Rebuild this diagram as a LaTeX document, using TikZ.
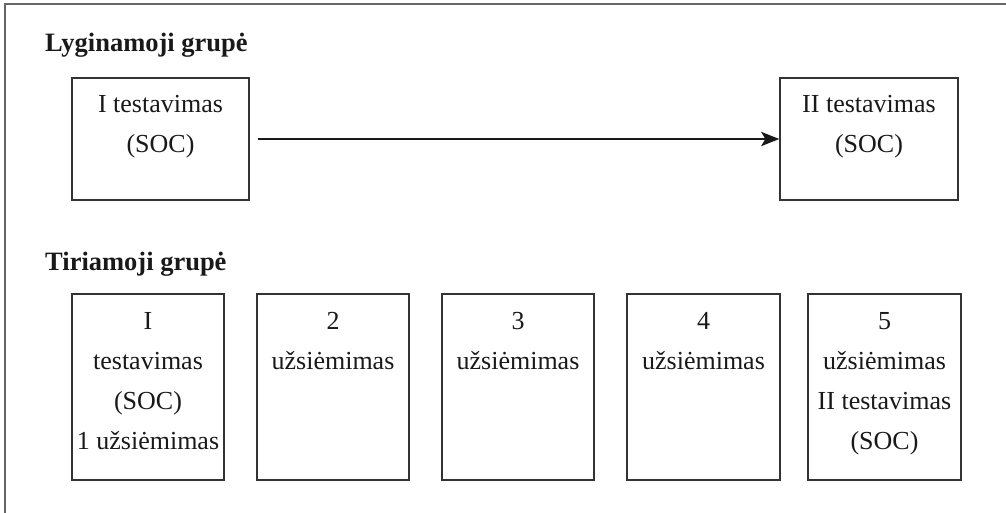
\documentclass[tikz,border=0pt]{standalone}
\usepackage{fontspec}
\setmainfont{Liberation Serif}
\usetikzlibrary{arrows.meta}
\begin{document}
\begin{tikzpicture}[x=1pt,y=-1pt,
  frameline/.style={draw=black!60, line width=2pt},
  box/.style={draw=black!80, line width=1.3pt, rectangle, inner sep=0pt},
  boxtext/.style={anchor=base, align=center, inner sep=0pt, text=black!90, font=\fontsize{26}{40}\selectfont},
  heading/.style={anchor=base west, inner sep=0pt, text=black!90, font=\fontsize{26.5}{30}\selectfont\bfseries},
  arrow/.style={draw=black!90, line width=2.8pt, -{Stealth[length=18pt,width=14pt,inset=4pt]}}
]
\useasboundingbox (0,0) rectangle (1006,513);
\coordinate (ftr) at (1006,4);
\coordinate (ftl) at (5,4);
\coordinate (fbl) at (5,513);
\draw[frameline] (ftr) -- (ftl) -- (fbl);

\node[heading] (h1) at (45,52) {Lyginamoji grupė};
\node[heading] (h2) at (45,270) {Tiriamoji grupė};

% top row
\node[box, minimum width=177pt, minimum height=122pt] (A) at (160.5,139) {};
\node[box, minimum width=178pt, minimum height=122pt] (B) at (869,139) {};
\node[boxtext] (At) at (160.5,153) {I testavimas\\(SOC)};
\node[boxtext] (Bt) at (869,153) {II testavimas\\(SOC)};
\draw[arrow, shorten <=8pt] (A) -- (B);

% bottom row
\node[box, minimum width=152pt, minimum height=186pt] (C1) at (148,387) {};
\node[box, minimum width=152pt, minimum height=186pt] (C2) at (333,387) {};
\node[box, minimum width=152pt, minimum height=186pt] (C3) at (518,387) {};
\node[box, minimum width=153pt, minimum height=186pt] (C4) at (703.5,387) {};
\node[box, minimum width=153pt, minimum height=186pt] (C5) at (884.5,387) {};
\node[boxtext] (C1t) at (148,449) {I\\testavimas\\(SOC)\\1 užsiėmimas};
\node[boxtext] (C2t) at (333,369) {2\\užsiėmimas};
\node[boxtext] (C3t) at (518,369) {3\\užsiėmimas};
\node[boxtext] (C4t) at (703.5,369) {4\\užsiėmimas};
\node[boxtext] (C5t) at (884.5,449) {5\\užsiėmimas\\II testavimas\\(SOC)};
\end{tikzpicture}
\end{document}
